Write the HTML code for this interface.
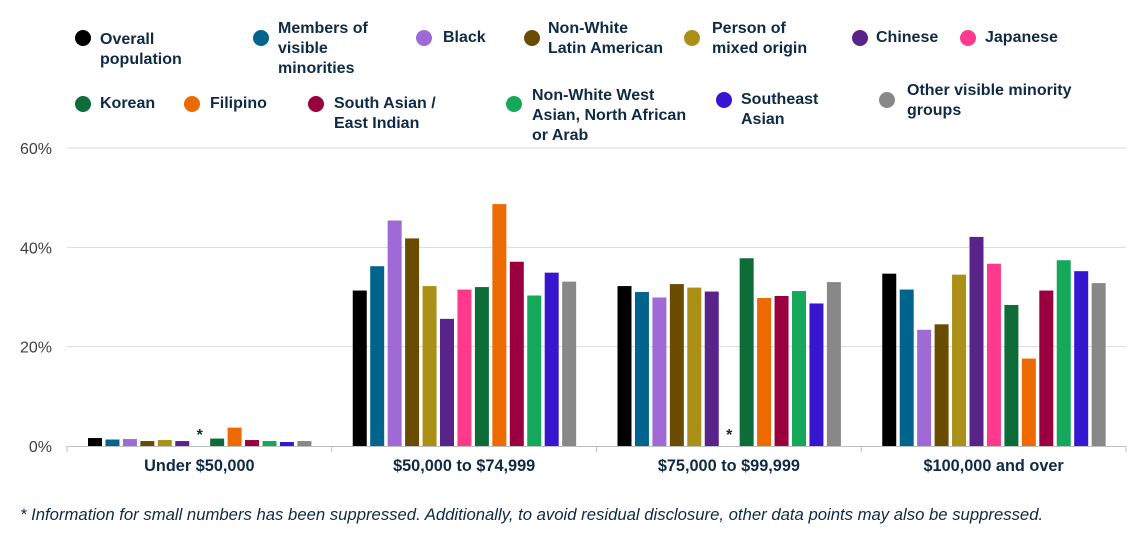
<!DOCTYPE html>
<html><head><meta charset="utf-8">
<style>
body{margin:0;background:#fff;width:1140px;height:544px;overflow:hidden;position:relative;font-family:"Liberation Sans",Arial,sans-serif}
.lg{position:absolute;font-weight:bold;font-size:16px;line-height:20px;color:#0f2a44}
.dot{position:absolute;width:16px;height:16px;border-radius:50%}
#note{position:absolute;left:20px;top:505px;font-size:16.7px;font-style:italic;color:#0f2a44;white-space:nowrap}
</style></head><body>
<div id="legend"></div>
<svg id="chart" width="1140" height="544" style="position:absolute;left:0;top:0"></svg>
<div id="note">* Information for small numbers has been suppressed. Additionally, to avoid residual disclosure, other data points may also be suppressed.</div>
<script>
const categories=["Under $50,000","$50,000 to $74,999","$75,000 to $99,999","$100,000 and over"];
const seriesNames=["Overall population","Members of visible minorities","Black","Non-White Latin American","Person of mixed origin","Chinese","Japanese","Korean","Filipino","South Asian / East Indian","Non-White West Asian, North African or Arab","Southeast Asian","Other visible minority groups"];
const colors=["#000000","#00648c","#a06ad6","#6a4c00","#ab8f16","#58248a","#ff3a8c","#0e6c38","#ec6a00","#9a0040","#16a85a","#3716d0","#888888"];
const v0=[1.6,1.3,1.4,1.0,1.2,1.0,null,1.5,3.7,1.2,1.0,0.8,1.0];
const v1=[31.3,36.2,45.4,41.8,32.2,25.6,31.5,32.0,48.7,37.1,30.3,34.9,33.1];
const v2=[32.2,31.0,29.9,32.6,31.9,31.1,null,37.8,29.8,30.2,31.2,28.7,33.0];
const v3=[34.7,31.5,23.4,24.5,34.5,42.1,36.7,28.4,17.6,31.3,37.4,35.2,32.8];
const values=[v0,v1,v2,v3];
const ticks=[0,20,40,60];
const tickLabels=["0%","20%","40%","60%"];

const NS="http://www.w3.org/2000/svg";
const svg=document.getElementById('chart');
const x0=67,x1=1126,y0=446,yTop=148;
const y=v=>y0-(v/60)*(y0-yTop);
const gw=(x1-x0)/categories.length;
const bw=14,step=17.45,off=21;
function mk(t,a){const e=document.createElementNS(NS,t);for(const k in a)e.setAttribute(k,a[k]);svg.appendChild(e);return e;}
ticks.forEach((t,i)=>{
  if(t>0){const g=mk('line',{x1:x0,x2:x1,y1:y(t),y2:y(t),stroke:'#d9d9d9','stroke-width':1});
  
  }
  const l=mk('text',{x:52,y:y(t)+6,'text-anchor':'end','font-size':16,fill:'#404040','font-family':'Liberation Sans'});
  l.textContent=tickLabels[i];
  
  
});
const ax=mk('line',{x1:x0,x2:x1,y1:y0+0.5,y2:y0+0.5,stroke:'#bfbfbf'});


for(let i=0;i<=categories.length;i++){
  const tk=mk('line',{x1:x0+i*gw,x2:x0+i*gw,y1:y0,y2:y0+6,stroke:'#bfbfbf'});
  
  
}
categories.forEach((c,ci)=>{
  const gx=x0+ci*gw;
  const l=mk('text',{x:gx+gw/2,y:471,'text-anchor':'middle','font-size':16.3,'font-weight':'bold',fill:'#0f2a44','font-family':'Liberation Sans'});
  l.textContent=c;
  
  
  values[ci].forEach((v,si)=>{
    const bx=gx+off+si*step;
    if(v===null){
      const s=mk('text',{x:bx+bw/2,y:y0-6,'text-anchor':'middle','font-size':16,'font-weight':'bold',fill:'#0f2a44','font-family':'Liberation Sans'});
      s.textContent='*';
      
      
      return;
    }
    const r=mk('rect',{x:bx,y:y(v),width:bw,height:y0-y(v),fill:colors[si]});
    
    
  });
});
// legend
const lp=[[83,38,100,30],[261,38,278,19],[424,38,443,28],[532,38,548,19],[692,38,712,19],[860,38,876,28],[968,38,985,28],
[83,104,100,94],[192,104,210,94],[316,104,334,94],[514,104,532,86],[724,100,741,90],[887,100,907,81]];
const lw=[140,120,80,130,120,80,100,80,80,140,170,90,190];
const lt=["Overall<br>population","Members of<br>visible<br>minorities","Black","Non-White<br>Latin American","Person of<br>mixed origin","Chinese","Japanese","Korean","Filipino","South Asian /<br>East Indian","Non-White West<br>Asian, North African<br>or Arab","Southeast<br>Asian","Other visible minority<br>groups"];
const leg=document.getElementById('legend');
seriesNames.forEach((n,i)=>{
  const d=document.createElement('div');d.className='dot';
  d.style.left=(lp[i][0]-8)+'px';d.style.top=(lp[i][1]-8)+'px';d.style.background=colors[i];
  
  
  leg.appendChild(d);
  const t=document.createElement('div');t.className='lg';
  t.style.left=lp[i][2]+'px';t.style.top=lp[i][3]+'px';t.style.width=lw[i]+'px';t.innerHTML=lt[i];
  
  
  leg.appendChild(t);
});
</script>
</body></html>
